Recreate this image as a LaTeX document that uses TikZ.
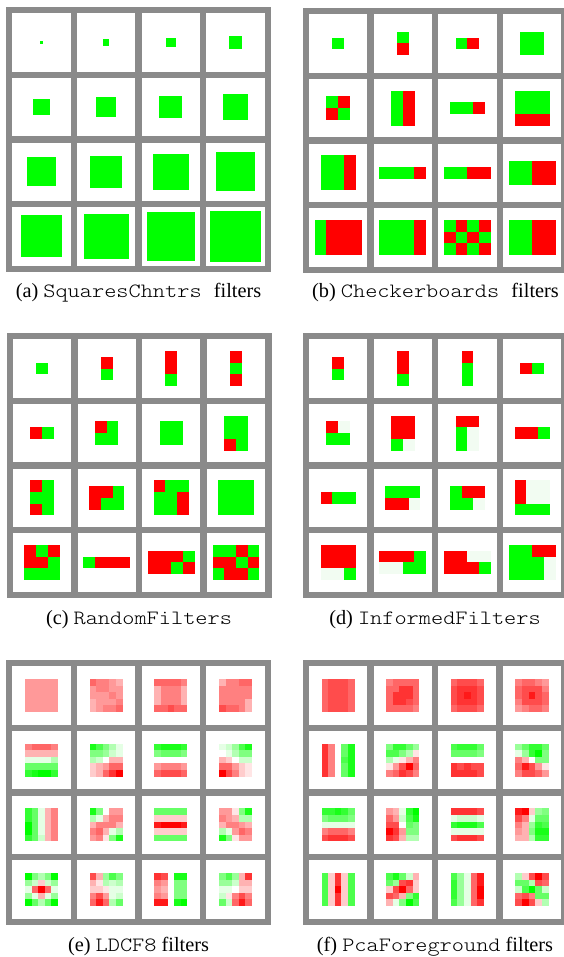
\documentclass[tikz,border=0pt]{standalone}
\usepackage{fontspec}
\setmainfont{Liberation Serif}
\setmonofont[FakeStretch=1.143]{lmmonolt10-regular.otf}
\definecolor{framegray}{HTML}{8A8A8A}
\definecolor{G}{HTML}{00FF00}
\definecolor{R}{HTML}{FF0000}
\definecolor{P}{HTML}{F2FCF2}
% gray frame with 4x4 white cells, top left at the origin of the scope
\newcommand\panel{%
  \fill[framegray] (0,0) rectangle (265,265);
  \foreach \i in {0,...,3}
    \foreach \j in {0,...,3}
      \fill[white] ({6.4+64.65*\i},{6.4+64.65*\j}) rectangle ++(58.25,58.25);}
% block filter: column, row, width, height, rows of colours
\newcommand\blk[5]{%
  \foreach \rw [count=\rr from 0] in {#5}{%
    \foreach \cl [count=\cc from 0] in \rw{%
      \fill[\cl] ({35.5+64.65*#1+(\cc-#3/2)*11.7},{35.5+64.65*#2+(\rr-#4/2)*11.7}) rectangle ++(11.75,11.75);
    }}}
% 5x5 heat map filter: column, row, rows of values (-10 red ... 10 green)
\newcommand\heat[3]{%
  \foreach \rw [count=\rr from 0] in {#3}{%
    \foreach \v [count=\cc from 0] in \rw{%
      \pgfmathtruncatemacro\pct{abs(\v)*10}%
      \ifnum\v<0 \def\hue{R}\else\def\hue{G}\fi
      \fill[\hue!\pct!white] ({35.5+64.65*#1+(\cc-2.5)*6.6},{35.5+64.65*#2+(\rr-2.5)*6.6}) rectangle ++(6.65,6.65);
    }}}
\begin{document}
\begin{tikzpicture}[x=1pt, y=-1pt,
    captext/.style={anchor=base, inner sep=0pt, font=\fontsize{20.3}{24}\selectfont}]
  \useasboundingbox (0,0) rectangle (563,957);
  \fill[white] (0,0) rectangle (563,957);

  % (a) growing squares
  \begin{scope}[shift={(6,7)}]
    \panel
    \foreach \k in {0,...,15}{
      \pgfmathsetmacro\s{3.23*(\k+1)}
      \pgfmathsetmacro\cx{35.5+64.65*mod(\k,4)}
      \pgfmathsetmacro\cy{35.5+64.65*int(\k/4)}
      \fill[G] ({\cx-\s/2},{\cy-\s/2}) rectangle ++(\s,\s);
    }
  \end{scope}
  \node[captext] (capa) at (138.5,298) {(a) \texttt{SquaresChntrs\ }filters};

  % (b) checkerboards
  \begin{scope}[shift={(302.6,8)}]
    \panel
    \blk{0}{0}{1}{1}{{G}}
    \blk{1}{0}{1}{2}{{G},{R}}
    \blk{2}{0}{2}{1}{{G,R}}
    \blk{3}{0}{2}{2}{{G,G},{G,G}}
    \blk{0}{1}{2}{2}{{G,R},{R,G}}
    \blk{1}{1}{2}{3}{{G,R},{G,R},{G,R}}
    \blk{2}{1}{3}{1}{{G,G,R}}
    \blk{3}{1}{3}{3}{{G,G,G},{G,G,G},{R,R,R}}
    \blk{0}{2}{3}{3}{{G,G,R},{G,G,R},{G,G,R}}
    \blk{1}{2}{4}{1}{{G,G,G,R}}
    \blk{2}{2}{4}{1}{{G,G,R,R}}
    \blk{3}{2}{4}{2}{{G,G,R,R},{G,G,R,R}}
    \blk{0}{3}{4}{3}{{G,R,R,R},{G,R,R,R},{G,R,R,R}}
    \blk{1}{3}{4}{3}{{G,G,G,R},{G,G,G,R},{G,G,G,R}}
    \blk{2}{3}{4}{3}{{G,R,G,R},{R,G,R,G},{G,R,G,R}}
    \blk{3}{3}{4}{3}{{G,G,R,R},{G,G,R,R},{G,G,R,R}}
  \end{scope}
  \node[captext] (capb) at (435.5,298) {(b) \texttt{Checkerboards\ }filters};

  % (c) random filters
  \begin{scope}[shift={(6.5,333)}]
    \panel
    \blk{0}{0}{1}{1}{{G}}
    \blk{1}{0}{1}{2}{{R},{G}}
    \blk{2}{0}{1}{3}{{R},{R},{G}}
    \blk{3}{0}{1}{3}{{R},{G},{R}}
    \blk{0}{1}{2}{1}{{R,G}}
    \blk{1}{1}{2}{2}{{R,G},{G,G}}
    \blk{2}{1}{2}{2}{{G,G},{G,G}}
    \blk{3}{1}{2}{3}{{G,G},{G,G},{R,G}}
    \blk{0}{2}{2}{3}{{R,G},{G,G},{R,G}}
    \blk{1}{2}{3}{2}{{R,R,G},{R,G,G}}
    \blk{2}{2}{3}{3}{{R,G,G},{G,G,R},{G,G,R}}
    \blk{3}{2}{3}{3}{{G,G,G},{G,G,G},{G,G,G}}
    \blk{0}{3}{3}{3}{{R,G,R},{R,R,G},{G,G,G}}
    \blk{1}{3}{4}{1}{{G,R,R,R}}
    \blk{2}{3}{4}{2}{{R,R,R,G},{R,R,G,R}}
    \blk{3}{3}{4}{3}{{G,G,R,G},{R,R,G,R},{G,R,R,G}}
  \end{scope}
  \node[captext] (capc) at (139,624) {(c) \texttt{RandomFilters}};

  % (d) informed filters
  \begin{scope}[shift={(302.6,333)}]
    \panel
    \blk{0}{0}{1}{2}{{R},{G}}
    \blk{1}{0}{1}{3}{{R},{R},{G}}
    \blk{2}{0}{1}{3}{{R},{G},{G}}
    \blk{3}{0}{2}{1}{{R,G}}
    \blk{0}{1}{2}{2}{{R,P},{G,G}}
    \blk{1}{1}{2}{3}{{R,R},{R,R},{G,P}}
    \blk{2}{1}{2}{3}{{R,R},{G,P},{G,P}}
    \blk{3}{1}{3}{1}{{R,R,G}}
    \blk{0}{2}{3}{1}{{R,G,G}}
    \blk{1}{2}{3}{2}{{G,G,G},{R,R,P}}
    \blk{2}{2}{3}{2}{{G,R,R},{G,G,P}}
    \blk{3}{2}{3}{3}{{R,P,P},{R,P,P},{G,G,G}}
    \blk{0}{3}{3}{3}{{R,R,R},{R,R,R},{P,P,G}}
    \blk{1}{3}{4}{2}{{R,R,R,G},{P,P,G,G}}
    \blk{2}{3}{4}{2}{{R,R,P,P},{R,R,R,G}}
    \blk{3}{3}{4}{3}{{G,G,R,R},{G,G,G,P},{G,G,G,P}}
  \end{scope}
  \node[captext] (capd) at (435,624) {(d) \texttt{InformedFilters}};

  % (e) LDCF8
  \begin{scope}[shift={(6,660)}]
    \panel
    \heat{0}{0}{{-4,-4,-4,-4,-4},{-4,-4,-4,-4,-4},{-4,-4,-4,-4,-4},{-4,-4,-4,-4,-4},{-4,-4,-4,-4,-4}}
    \heat{1}{0}{{-6,-5,-5,-4,-3},{-4,-5,-5,-4,-4},{-4,-4,-4,-5,-4},{-3,-4,-4,-4,-5},{-3,-4,-5,-5,-6}}
    \heat{2}{0}{{-6,-6,-6,-6,-5},{-3,-5,-5,-5,-3},{-3,-5,-5,-5,-3},{-3,-5,-5,-5,-3},{-6,-6,-7,-6,-6}}
    \heat{3}{0}{{-3,-5,-5,-6,-6},{-5,-5,-5,-5,-5},{-5,-5,-5,-5,-5},{-5,-5,-5,-5,-3},{-7,-6,-6,-5,-3}}
    \heat{0}{1}{{-5,-6,-6,-6,-5},{-3,-3,-3,-3,-3},{1,1,1,1,3},{6,6,6,6,6},{8,9,10,10,8}}
    \heat{1}{1}{{9,7,5,3,1},{5,5,4,2,1},{3,2,0,-3,-3},{-2,-3,-4,-6,-6},{-2,-3,-6,-8,-10}}
    \heat{2}{1}{{8,9,9,9,8},{5,6,6,6,5},{0,0,0,0,0},{-4,-5,-5,-5,-4},{-6,-7,-7,-7,-6}}
    \heat{3}{1}{{1,2,4,7,9},{0,1,3,5,5},{-3,-2,0,2,2},{-6,-6,-4,-2,-1},{-10,-7,-5,-2,-1}}
    \heat{0}{2}{{8,6,1,-3,-5},{8,6,1,-3,-5},{10,6,1,-3,-5},{10,6,1,-3,-5},{8,6,2,-3,-5}}
    \heat{1}{2}{{9,5,0,-4,-4},{3,1,-3,-5,-5},{-3,-5,-5,-5,-3},{-5,-6,-3,1,3},{-4,-5,-1,5,9}}
    \heat{2}{2}{{6,6,6,6,6},{-2,-2,-2,-2,-2},{-9,-10,-10,-10,-9},{-2,-2,-2,-2,-2},{6,6,6,6,6}}
    \heat{3}{2}{{-4,-4,-1,5,9},{-5,-4,-3,3,3},{-3,-5,-5,-4,-3},{3,1,-4,-6,-5},{9,5,-1,-4,-4}}
    \heat{0}{3}{{10,5,3,5,10},{4,2,-2,2,4},{1,-6,-10,-6,1},{4,1,-3,1,4},{10,6,3,6,10}}
    \heat{1}{3}{{-7,-3,4,7,5},{-3,-1,3,2,3},{-2,-2,-1,1,1},{-5,-7,-4,1,2},{-6,-9,-6,3,6}}
    \heat{2}{3}{{-8,-7,0,9,9},{-5,-4,0,5,5},{-4,-3,0,5,5},{-5,-4,0,5,5},{-9,-9,0,9,10}}
    \heat{3}{3}{{5,7,4,-3,-8},{4,4,2,-3,-3},{1,1,0,-2,-2},{2,-1,-5,-7,-5},{6,2,-6,-9,-6}}
  \end{scope}
  \node[captext] (cape) at (138.5,951) {(e) \texttt{LDCF8} filters};

  % (f) PcaForeground
  \begin{scope}[shift={(302.5,660)}]
    \panel
    \heat{0}{0}{{-6,-7,-7,-7,-6},{-6,-7,-7,-7,-6},{-6,-7,-7,-7,-6},{-6,-7,-7,-7,-6},{-6,-7,-7,-7,-6}}
    \heat{1}{0}{{-5,-6,-6,-6,-6},{-6,-6,-8,-8,-6},{-6,-8,-8,-8,-6},{-6,-8,-8,-7,-6},{-6,-6,-6,-6,-5}}
    \heat{2}{0}{{-6,-7,-7,-7,-6},{-7,-8,-8,-8,-7},{-7,-8,-9,-8,-7},{-7,-8,-8,-8,-7},{-6,-7,-7,-7,-6}}
    \heat{3}{0}{{-5,-6,-6,-5,-4},{-6,-7,-7,-7,-5},{-6,-7,-9,-7,-6},{-5,-7,-7,-7,-6},{-4,-5,-6,-6,-5}}
    \heat{0}{1}{{-8,-5,0,6,9},{-8,-5,0,6,9},{-8,-5,0,7,9},{-8,-5,0,6,9},{-8,-5,0,6,9}}
    \heat{1}{1}{{5,8,8,6,4},{7,7,5,3,-1},{3,1,-1,-3,-5},{-1,-4,-7,-10,-6},{-5,-6,-8,-7,-5}}
    \heat{2}{1}{{7,8,8,8,6},{6,6,6,6,5},{0,0,0,0,0},{-8,-7,-8,-7,-7},{-8,-8,-8,-8,-7}}
    \heat{3}{1}{{4,6,8,8,6},{1,4,8,10,5},{-5,-3,0,5,5},{-6,-9,-7,-4,-1},{-5,-7,-7,-6,-4}}
    \heat{0}{2}{{8,8,9,8,6},{5,6,6,6,5},{1,1,1,1,1},{-5,-6,-6,-6,-5},{-7,-8,-8,-8,-7}}
    \heat{1}{2}{{-4,-3,1,8,10},{-6,-4,2,7,9},{-7,-7,0,6,5},{-10,-8,-4,5,5},{-8,-7,-3,3,3}}
    \heat{2}{2}{{-8,-8,-8,-8,-7},{1,2,2,2,1},{8,9,9,9,7},{1,1,1,1,1},{-7,-8,-8,-8,-7}}
    \heat{3}{2}{{-9,-10,-2,4,5},{-7,-5,1,6,6},{-5,-3,4,8,7},{-4,-3,5,9,9},{-3,-3,3,8,8}}
    \heat{0}{3}{{7,-2,-8,-2,7},{7,-2,-8,-2,7},{7,-2,-10,-2,7},{7,-2,-8,-2,7},{7,-2,-8,-2,7}}
    \heat{1}{3}{{7,9,6,2,-3},{6,4,-7,-8,-2},{-2,-7,-10,-6,-2},{-7,-6,-3,5,8},{-3,1,5,10,7}}
    \heat{2}{3}{{7,4,1,-6,-9},{8,4,1,-6,-9},{8,4,1,-6,-10},{8,4,1,-6,-10},{7,4,1,-6,-8}}
    \heat{3}{3}{{3,-2,-7,-10,-7},{6,6,3,-7,-6},{2,7,10,6,2},{-6,-7,-5,6,6},{-7,-10,-7,-2,3}}
  \end{scope}
  \node[captext] (capf) at (435,951) {(f) \texttt{PcaForeground} filters};
\end{tikzpicture}
\end{document}
